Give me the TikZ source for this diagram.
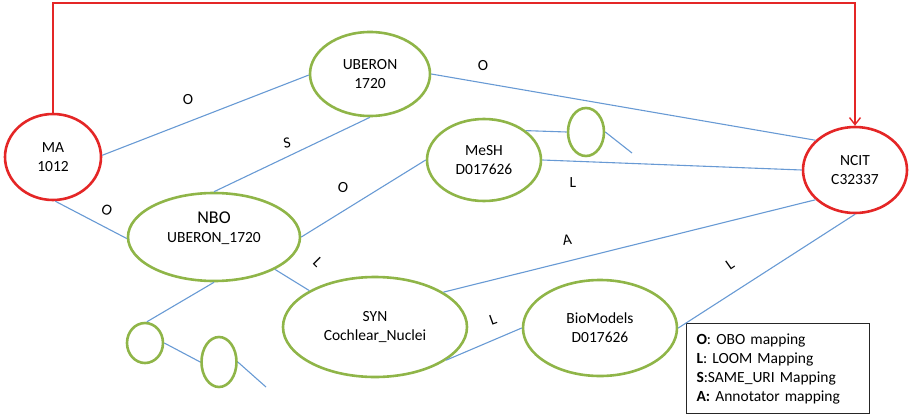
\documentclass[tikz,border=0pt]{standalone}
\usepackage{fontspec}
\setmainfont{Carlito}
\usetikzlibrary{shapes.geometric,arrows.meta}
\definecolor{ored}{RGB}{228,38,38}
\definecolor{ogreen}{RGB}{143,181,72}
\definecolor{oblue}{RGB}{104,154,212}
\begin{document}
\begin{tikzpicture}[x=1pt,y=-1pt,
  txt/.style={font=\fontsize{15.5}{19}\selectfont},
  redell/.style={ellipse, draw=ored, line width=2.6pt, inner sep=0, align=center, txt},
  greenell/.style={ellipse, draw=ogreen, line width=2.6pt, inner sep=0, align=center, txt},
  link/.style={draw=oblue, line width=1.1pt},
  redline/.style={draw=ored, line width=1.4pt},
  lab/.style={txt, inner sep=0}]
\useasboundingbox (0,0) rectangle (910,415);

% nodes
\node[redell, minimum width=96pt, minimum height=86pt] (MA) at (53,157) {MA\\1012};
\node[greenell, minimum width=120pt, minimum height=84pt] (UB) at (370,74) {UBERON\\1720};
\node[greenell, minimum width=114pt, minimum height=82pt] (MESH) at (484,160) {MeSH\\D017626};
\node[greenell, minimum width=36pt, minimum height=48pt] (S3) at (586,132) {};
\node[redell, minimum width=104pt, minimum height=86pt] (NCIT) at (855,170) {NCIT\\C32337};
\node[greenell, minimum width=172pt, minimum height=88pt] (NBO) at (214,237) {{\fontsize{18}{20}\selectfont NBO}\\UBERON\_1720\\\mbox{}};
\node[greenell, minimum width=184pt, minimum height=100pt] (SYN) at (375,327) {SYN\\Cochlear\_Nuclei};
\node[greenell, minimum width=154pt, minimum height=96pt] (BIO) at (600,328) {BioModels\\D017626};
\node[greenell, minimum width=36pt, minimum height=40pt] (S1) at (145,343) {};
\node[greenell, minimum width=35pt, minimum height=50pt] (S2) at (219,362) {};
\coordinate (E1) at (632,153);
\coordinate (E2) at (266,387);
\coordinate (TOP) at (455,3);

% legend
\node[draw=black!85, line width=1pt, anchor=north west, align=left, inner xsep=10pt, inner ysep=0pt,
      minimum width=183pt, minimum height=90pt, text width=163pt, txt] (LEG) at (686,323)
  {\textbf{O}: OBO mapping\\\textbf{L}: LOOM Mapping\\\textbf{S}:SAME\_URI Mapping\\\textbf{A:} Annotator mapping};

% connectors
\draw[link] (MA.2) -- (UB.181);
\draw[link] (MA.273) -- (NBO.181);
\draw[link] (UB.270) -- (NBO.90);
\draw[link] (UB.0) -- (NCIT.143);
\draw[link] (MESH.180) -- (NBO.0);
\draw[link] (MESH.35) -- (S3.180);
\draw[link] (S3.0) -- (E1);
\draw[link] (MESH.0) -- (NCIT.180);
\draw[link] (NBO.-28) -- (SYN.151);
\draw[link] (NBO.270) -- (S1.85);
\draw[link] (S1.0) -- (S2.180);
\draw[link] (S2.0) -- (E2);
\draw[link] (SYN.27) -- (NCIT.217);
\draw[link] (SYN.335) -- (BIO.180);
\draw[link] (BIO.0) -- (NCIT.270);

\draw[redline, -{Straight Barb[length=7pt,width=11pt]}] (MA.north) -- (MA.north |- TOP) -| (NCIT.north);

% labels
\node[lab] (lO1) at (188,100) {O};
\node[lab, rotate=-25] (lO2) at (107,210) {O};
\node[lab, rotate=10] (lS) at (287,143) {S};
\node[lab, rotate=-10] (lO3) at (343,187) {O};
\node[lab] (lO4) at (483,66) {O};
\node[lab] (lL1) at (573,183) {L};
\node[lab, rotate=-45] (lL2) at (318,262) {L};
\node[lab, rotate=20] (lL3) at (493,320) {L};
\node[lab, rotate=8] (lA) at (567,240) {A};
\node[lab, rotate=35] (lL4) at (730,265) {L};
\end{tikzpicture}
\end{document}
